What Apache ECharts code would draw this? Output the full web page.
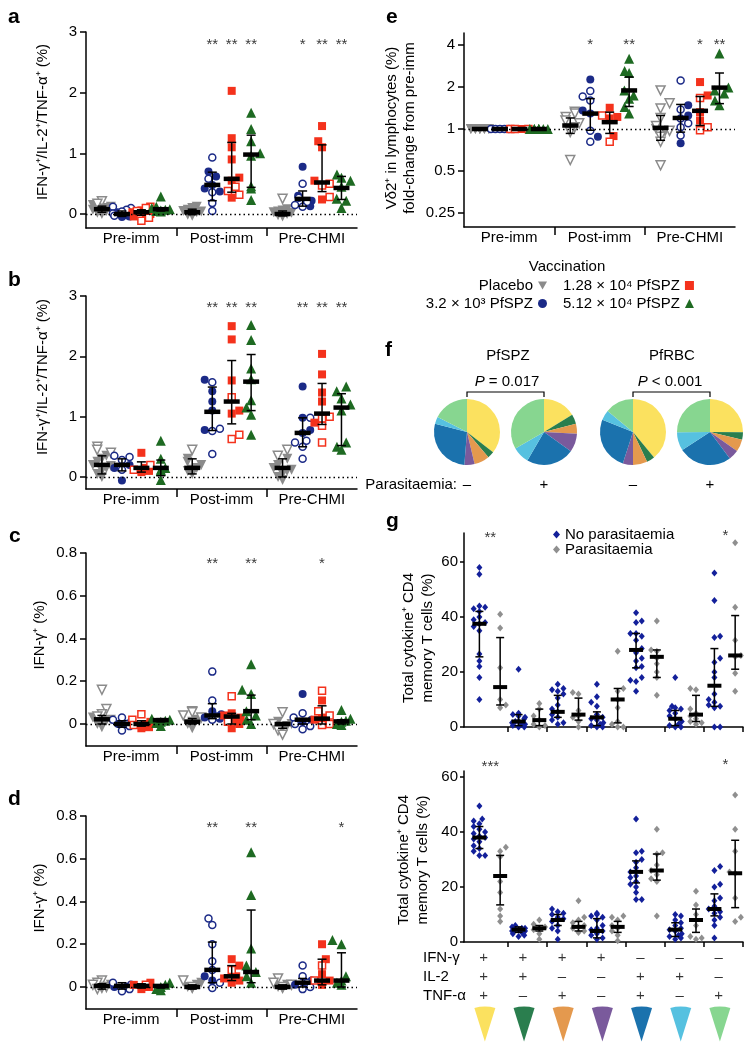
<!DOCTYPE html>
<html><head><meta charset="utf-8">
<script src="https://cdn.jsdelivr.net/npm/echarts@6/dist/echarts.min.js"></script>
<style>html,body{margin:0;padding:0;background:#fff}#c{width:752px;height:1050px}</style>
</head><body><div id="c"></div>
<script>
const FONT = '"Liberation Sans", Arial, Helvetica, sans-serif';
const timepoints = ['Pre-imm', 'Post-imm', 'Pre-CHMI'];
const groups = ['Placebo', '3.2 × 10³ PfSPZ', '1.28 × 10⁴ PfSPZ', '5.12 × 10⁴ PfSPZ'];
const cytokineRows = ['IFN-γ', 'IL-2', 'TNF-α'];
const signIFN = ['+', '+', '+', '+', '–', '–', '–'];
const signIL2 = ['+', '+', '–', '–', '+', '+', '–'];
const signTNF = ['+', '–', '+', '–', '+', '–', '+'];
const subsetColors = ['#FBE15F', '#2A7E4E', '#E4994E', '#7A5A9C', '#1B72AD', '#56C1E0', '#87D690'];

// ---------- panel a ----------
const aPlaceboFilled = [[0.15,0.12,0.1,0.09,0.08,0.07,0.06,0.05,0.04,0.02,0.0],[0.12,0.1,0.07,0.05,0.04,0.03,0.01,-0.01,-0.03],[0.08,0.06,0.04,0.03,0.02,0.0,-0.01,-0.02,-0.04]];
const aPlaceboOpen = [[0.21,0.17],[],[0.25]];
const aBlueFilled = [[0.03,0.0,-0.02,-0.04,-0.05],[0.7,0.62,0.48,0.42,0.37],[0.78,0.3,0.22,0.13]];
const aBlueOpen = [[0.12,0.1,0.07,0.04,0.01,-0.03],[0.93,0.58,0.36,0.18,0.05],[0.5,0.27,0.2,0.15,0.12]];
const aRedFilled = [[0.06,0.03,0.0,-0.02,-0.04],[2.03,1.25,1.1,0.9,0.6,0.55,0.27],[1.45,1.2,1.1,0.55,0.24]];
const aRedOpen = [[0.12,0.1,0.05,-0.06,-0.11],[0.38,0.32,0.45],[0.5,0.47,0.28]];
const aGreenFilled = [[0.29,0.12,0.1,0.08,0.07,0.06,0.05,0.04],[1.67,1.4,1.2,1.0,0.96,0.46,0.42,0.23],[0.65,0.6,0.55,0.45,0.25,0.22,0.1]];
const aGreenOpen = [[],[],[]];
const aMedian = [[0.08,0.0,0.03,0.08],[0.03,0.48,0.58,0.98],[0.0,0.25,0.52,0.43]];
const aLow = [[0.03,-0.04,-0.02,0.05],[-0.01,0.22,0.36,0.44],[-0.03,0.13,0.37,0.24]];
const aHigh = [[0.13,0.05,0.07,0.1],[0.08,0.69,1.18,1.3],[0.05,0.38,1.14,0.62]];
const aStars = [['','','',''],['','**','**','**'],['','*','**','**']];
const aTicks = [0, 1, 2, 3];

// ---------- panel b ----------
const bPlaceboFilled = [[0.35,0.3,0.25,0.2,0.18,0.15,0.1,0.05,0.0],[0.3,0.25,0.2,0.15,0.12,0.1,0.05],[0.3,0.2,0.15,0.12,0.1,0.05,0.0,-0.05]];
const bPlaceboOpen = [[0.5,0.45,0.4],[0.45],[0.45,0.35]];
const bBlueFilled = [[0.2,0.15,-0.06],[1.61,1.42,1.25,1.1,0.78],[1.5,0.98,0.78,0.73]];
const bBlueOpen = [[0.35,0.33,0.28,0.12],[1.57,0.8,0.76,0.38],[0.98,0.6,0.57,0.5,0.3]];
const bRedFilled = [[0.4,0.15,0.1,0.08],[2.5,2.28,1.6,1.1,1.05],[2.04,1.7,1.4,1.25,0.9]];
const bRedOpen = [[0.2,0.12],[1.32,0.7,0.63],[1.0,0.97,0.85,0.57]];
const bGreenFilled = [[0.6,0.3,0.15,0.12,0.1,-0.05],[2.52,2.27,1.8,1.62,1.27,1.15,1.03,0.7],[1.5,1.42,1.3,1.2,1.1,0.57,0.5,0.45]];
const bGreenOpen = [[],[],[]];
const bMedian = [[0.2,0.2,0.15,0.15],[0.15,1.08,1.25,1.58],[0.15,0.73,1.05,1.15]];
const bLow = [[0.05,0.1,0.08,0.02],[0.05,0.77,0.88,1.1],[0.0,0.5,0.87,0.52]];
const bHigh = [[0.35,0.3,0.25,0.28],[0.3,1.49,1.93,2.03],[0.3,0.98,1.55,1.38]];
const bStars = [['','','',''],['','**','**','**'],['','**','**','**']];
const bTicks = [0, 1, 2, 3];

// ---------- panel c ----------
const cPlaceboFilled = [[0.03,0.02,0.015,0.01,0.0,-0.015],[0.02,0.01,0.0,-0.02],[0.01,0.0,-0.01,-0.02]];
const cPlaceboOpen = [[0.16,0.07,0.045,0.035],[0.06,0.055,0.04,0.03],[0.055,0.0,-0.03,-0.05]];
const cBlueFilled = [[0.0],[0.06,0.045,0.03,0.025],[0.14,0.02,0.01]];
const cBlueOpen = [[0.03,0.02,0.01,0.0,-0.01,-0.03],[0.245,0.11,0.035,0.02],[0.05,0.03,0.0,-0.01,-0.025]];
const cRedFilled = [[0.01,0.0,-0.02,-0.015],[0.05,0.04,0.03,0.02,0.0,-0.02],[0.11,0.03,0.02]];
const cRedOpen = [[0.045,0.02,-0.005],[0.13,0.01],[0.155,0.06,0.04,0.0,-0.005]];
const cGreenFilled = [[0.025,0.02,0.015,0.01,0.005,-0.01],[0.28,0.16,0.14,0.06,0.04,0.02,0.0],[0.065,0.025,0.015,0.01,0.0,-0.005]];
const cGreenOpen = [[],[],[]];
const cMedian = [[0.022,0.0,0.0,0.018],[0.01,0.04,0.035,0.06],[0.0,0.02,0.025,0.012]];
const cLow = [[0.0,-0.015,-0.01,0.01],[0.0,0.025,0.0,0.02],[-0.02,0.0,0.0,0.0]];
const cHigh = [[0.04,0.015,0.015,0.025],[0.025,0.095,0.05,0.135],[0.005,0.025,0.085,0.02]];
const cStars = [['','','',''],['','**','','**'],['','','*','']];
const cTicks = [0, 0.2, 0.4, 0.6, 0.8];

// ---------- panel d ----------
const dPlaceboFilled = [[0.01,0.0,-0.01],[0.02,0.01,0.0,-0.01],[0.01,0.0,-0.01]];
const dPlaceboOpen = [[0.03,0.02,0.01,0.0,-0.01],[0.03,0.0],[0.04,0.02,0.01,0.0]];
const dBlueFilled = [[0.0],[0.05,0.03],[0.03,0.01]];
const dBlueOpen = [[0.02,0.01,0.0,-0.01,-0.02],[0.32,0.29,0.2,0.12,0.08,0.02,-0.005],[0.1,0.05,0.02,0.0,-0.01]];
const dRedFilled = [[0.02,0.01,0.0,-0.01],[0.13,0.1,0.05,0.04,0.03,0.02],[0.2,0.13,0.06,0.03,0.01]];
const dRedOpen = [[0.01],[0.08],[0.1,0.03]];
const dGreenFilled = [[0.02,0.01,0.0,-0.01,-0.015],[0.63,0.43,0.18,0.1,0.07,0.05,0.02],[0.22,0.2,0.05,0.03,0.02,0.01]];
const dGreenOpen = [[],[],[]];
const dMedian = [[0.005,0.005,0.005,0.005],[0.0,0.08,0.05,0.07],[0.0,0.02,0.03,0.03]];
const dLow = [[-0.01,-0.01,-0.005,-0.005],[-0.01,0.02,0.03,0.02],[-0.01,0.0,0.01,0.0]];
const dHigh = [[0.015,0.02,0.015,0.01],[0.01,0.21,0.1,0.36],[0.01,0.04,0.13,0.16]];
const dStars = [['','','',''],['','**','','**'],['','','','*']];
const dTicks = [0, 0.2, 0.4, 0.6, 0.8];

// ---------- panel e (fold-change, log2 axis) ----------
const ePlaceboFilled = [[1,1,1,1,1,1,1,1,1,1,1],[],[1.0,0.95]];
const ePlaceboOpen = [[],[1.33,1.29,1.22,1.15,1.1,1.03,1.0,0.95,0.6],[1.89,1.53,1.4,1.2,1.05,0.97,0.88,0.81,0.55]];
const eBlueFilled = [[1,1,1,1,1],[2.26,1.36,1.29,0.88],[1.48,1.25,0.79]];
const eBlueOpen = [[1,1,1,1,1],[1.87,1.71,1.6,0.97,0.81],[2.23,1.38,1.19,1.1,1.03,0.9]];
const eRedFilled = [[1,1,1,1],[1.42,1.22,1.19,0.89],[2.17,1.74,1.32,1.15]];
const eRedOpen = [[1,1,1],[1.25,0.81],[1.67,1.03,0.98]];
const eGreenFilled = [[1,1,1,1,1,1,1,1],[3.19,2.6,2.52,1.89,1.74,1.65,1.44,1.29],[3.47,1.98,1.89,1.8,1.6,1.48]];
const eGreenOpen = [[],[],[]];
const eMedian = [[1,1,1,1],[1.06,1.29,1.12,1.89],[1.02,1.2,1.35,1.98]];
const eLow = [[1,1,1,1],[0.93,0.98,0.93,1.45],[0.83,0.95,1.06,1.52]];
const eHigh = [[1,1,1,1],[1.2,1.65,1.32,2.36],[1.25,1.5,1.71,2.52]];
const eStars = [['','','',''],['','*','','**'],['','','*','**']];
const eTickLabels = ['0.25', '0.5', '1', '2', '4'];

// ---------- panel f (pie fractions, %) ----------
const pieSpzNeg = [35.5, 3.3, 7.5, 5, 27.7, 3.5, 17.5];
const pieSpzPos = [16.3, 4.7, 4.9, 9, 23.5, 8.3, 33.3];
const pieRbcNeg = [39, 4, 7, 5, 26, 5, 14];
const pieRbcPos = [25, 3.6, 6, 5, 26, 9, 25];

// ---------- panel g ----------
const gTopNoPara = [
  [58,55.5,44,43.5,43,42,40,39,38,37.5,36.5,35,26.5,24,22,18,10],
  [21,5,4.5,4,3.5,3,2,2,1.5,1,1,0.5,0,0],
  [15.5,14,13.5,13,12,10.5,8,6.5,5.5,4.5,3.5,2.5,1.5,1],
  [15.5,11,9,7.5,4.5,3.5,3,2.5,1.5,1,0.5,0,0],
  [41.5,38.5,38,34,34,33,31.5,28.5,27,25,24,22,21.5,18,17,16.5,13],
  [18,7.5,7,6.5,6,5,4,3,2,1,0.5,0,0],
  [56,46,33,32.5,25,23.5,20,18,12,10,9,8,7.5,7,0,0]
];
const gTopPara = [
  [41,36,21.5,10,8,7],
  [8.5,6.5,4,2.5,1,0.5,0],
  [12.5,12,6,4,3.5,2,0],
  [27.5,14,13,10,7,2,1,0,0],
  [38.5,28,27.5,25,23,20,18,11.5],
  [14,13.5,6.5,5,4,3,2,1.5,1],
  [67,43.5,31.5,26,25.5,19.5,13]
];
const gTopNoMedian = [37.5,2,5.5,3.5,28,3,15];
const gTopNoLow = [25.5,0.5,3.5,0.5,21.5,0.5,7.5];
const gTopNoHigh = [42,4.5,11.5,5.5,34,6,28.5];
const gTopParaMedian = [14.5,2.5,4.5,10,25.5,4.5,26];
const gTopParaLow = [8,0.5,2.5,1.5,18,2,21];
const gTopParaHigh = [32.5,6.5,10.5,14,28,11.5,40.5];

const gBotNoPara = [
  [49.5,44.7,44,43,42,41,40,39.5,38.5,38,37.5,36.5,35,34,33,31.5,31.5],
  [6,5.5,5,5,4.5,4.5,4,4,3.5,3,2.5,2],
  [12,11,10.5,10,9,8.5,8,7.5,6,5,4,1],
  [10.5,10,9.5,9,8,6,5,4.5,4,3,2.5,1.5,1],
  [44.7,33,32.5,30,29,27,25.5,24,23.5,22,21,20,18,15.5,15.5],
  [10,9.5,8,7,6,5,4.5,4,3,2.5,2,1.5,1],
  [27.5,26,21,20,16,15,13,12,11,10.5,9,8,6,1.5]
];
const gBotPara = [
  [34.5,33,31,22,18,12,9.5,7.5],
  [8,6.5,5.5,5,4.5,3,1],
  [15,9,8,7,6,5.5,5,4,3.5],
  [9.5,9,8,6,5,4,2.5,0.5],
  [41,32.5,32,28,26,24.5,23,22,9.5],
  [18.5,13.5,10,8,6,2,1.5,1],
  [53.5,41,33,25.5,25,16,9,7.5]
];
const gBotNoMedian = [38,4.5,8,4,25.5,4.5,12];
const gBotNoLow = [34,3.5,6,1.5,21.5,2,9.5];
const gBotNoHigh = [42,5.5,10,8.5,29.5,7,17.5];
const gBotParaMedian = [24,5,5.5,5.5,26,8,25];
const gBotParaLow = [13.5,4,4,3.5,22.5,3.5,12.5];
const gBotParaHigh = [31.5,6,7.5,7.5,32,12,37];
const gTopStars = ['**','','','','','','*'];
const gBotStars = ['***','','','','','','*'];
const gTicks = [0, 20, 40, 60];

// ================= build =================
const C_GREY = '#8b8b8b', C_BLUE = '#1b2a87', C_RED = '#f4321c', C_GREEN = '#1e6a22';
const G_BLUE = '#13209a', G_GREY = '#8f8f8f';
const groupColors = [C_GREY, C_BLUE, C_RED, C_GREEN];
const groupSymbols = ['triangle', 'circle', 'rect', 'triangle'];
const groupSizes = [10, 8, 8, 10];
const groupRot = [180, 0, 0, 0];
const DOT_OFF = [-0.324, -0.102, 0.113, 0.328];

const grids = [], xAxes = [], yAxes = [], series = [], graphics = [];

function swarm(vals, pxY, r, maxOff) {
  const order = vals.map((v, i) => i).sort((a, b) => vals[a] - vals[b]);
  const placed = [], offs = new Array(vals.length).fill(0);
  const step = r * 0.95, minD = r * 1.7;
  order.forEach((i, n) => {
    const y = vals[i] * pxY;
    let chosen = null;
    for (let k = 0; k <= 10 && chosen === null; k++) {
      const c = k === 0 ? [0] : (n % 2 ? [k * step, -k * step] : [-k * step, k * step]);
      for (const cc of c) {
        if (Math.abs(cc) > maxOff) continue;
        if (placed.every(p => Math.hypot(p.x - cc, p.y - y) >= minD)) { chosen = cc; break; }
      }
    }
    if (chosen === null) chosen = ((n % 5) - 2) * maxOff / 2;
    placed.push({ x: chosen, y }); offs[i] = chosen;
  });
  return offs;
}

function renderSummary(halfW, capW, th) {
  return function (params, api) {
    const x = api.value(0), m = api.value(1), l = api.value(2), h = api.value(3);
    const pm = api.coord([x, m]), pl = api.coord([x, l]), ph = api.coord([x, h]);
    const st = { stroke: '#000', lineWidth: 1.5 };
    const ch = [];
    if (Math.abs(pl[1] - ph[1]) > 1) {
      ch.push({ type: 'line', shape: { x1: pm[0], y1: pl[1], x2: pm[0], y2: ph[1] }, style: st });
      ch.push({ type: 'line', shape: { x1: pm[0] - capW / 2, y1: pl[1], x2: pm[0] + capW / 2, y2: pl[1] }, style: st });
      ch.push({ type: 'line', shape: { x1: pm[0] - capW / 2, y1: ph[1], x2: pm[0] + capW / 2, y2: ph[1] }, style: st });
    }
    ch.push({ type: 'rect', shape: { x: pm[0] - halfW, y: pm[1] - th / 2, width: 2 * halfW, height: th }, style: { fill: '#000' } });
    return { type: 'group', children: ch };
  };
}

const axisLineStyle = { color: '#000', width: 1.5 };
const labelBase = { fontSize: 15, color: '#000', fontFamily: FONT };

function dotPanel(gi, rect, yMin, yMax, ticks, fmt, tf, pxY, filled, open, med, lo, hi, stars, starVal, base) {
  grids.push({ left: rect[0], top: rect[1], width: rect[2], height: rect[3] });
  xAxes.push({ gridIndex: gi, type: 'value', min: 0, max: 3,
    axisLine: { onZero: false, lineStyle: axisLineStyle },
    axisTick: { show: true, customValues: [1, 2], length: 8, lineStyle: axisLineStyle },
    axisLabel: Object.assign({ show: true, customValues: [0.5, 1.5, 2.5], formatter: v => timepoints[Math.floor(v)], margin: 3 }, labelBase),
    splitLine: { show: false } });
  yAxes.push({ gridIndex: gi, type: 'value', min: yMin, max: yMax,
    axisLine: { show: true, onZero: false, lineStyle: axisLineStyle },
    axisTick: { show: true, customValues: ticks, length: 6, lineStyle: axisLineStyle },
    axisLabel: Object.assign({ show: true, customValues: ticks, formatter: fmt, margin: 9 }, labelBase),
    splitLine: { show: false } });
  const pxX = rect[2] / 3;
  for (let g = 0; g < 4; g++) {
    const fData = [], oData = [];
    for (let t = 0; t < 3; t++) {
      const f = filled[g][t].map(tf), o = open[g][t].map(tf);
      const all = f.concat(o);
      const offs = swarm(all, pxY, groupSizes[g] / 2, 9);
      all.forEach((v, i) => {
        const pt = [t + 0.5 + DOT_OFF[g] + offs[i] / pxX, v];
        (i < f.length ? fData : oData).push(pt);
      });
    }
    const common = { type: 'scatter', xAxisIndex: gi, yAxisIndex: gi, symbol: groupSymbols[g], symbolSize: groupSizes[g],
      symbolRotate: groupRot[g], silent: true, animation: false, z: 3 };
    const fs = Object.assign({ name: groups[g], data: fData, itemStyle: { color: groupColors[g], opacity: 1 } }, common);
    if (g === 0) {
      fs.markLine = { silent: true, symbol: 'none', label: { show: false }, animation: false,
        lineStyle: { type: [1.5, 3], color: '#000', width: 1.3 }, data: [{ yAxis: tf(base) }] };
    }
    series.push(fs);
    series.push(Object.assign({ name: groups[g] + ' (open)', data: oData,
      itemStyle: { color: '#fff', borderColor: groupColors[g], borderWidth: 1.5, opacity: 1 } }, common, { symbolSize: groupSizes[g] - 1 }));
  }
  const sData = [], stData = [];
  for (let t = 0; t < 3; t++) for (let g = 0; g < 4; g++) {
    sData.push([t + 0.5 + DOT_OFF[g], tf(med[t][g]), tf(lo[t][g]), tf(hi[t][g])]);
    if (stars[t][g]) stData.push({ value: [t + 0.5 + DOT_OFF[g], tf(starVal)], name: stars[t][g] });
  }
  series.push({ type: 'custom', xAxisIndex: gi, yAxisIndex: gi, renderItem: renderSummary(8, 9, 4.5), data: sData,
    encode: { x: 0, y: [1, 2, 3] }, z: 5, silent: true, animation: false });
  series.push({ type: 'scatter', xAxisIndex: gi, yAxisIndex: gi, data: stData, symbolSize: 0, silent: true, animation: false, clip: false, z: 6,
    label: Object.assign({ show: true, position: 'inside', formatter: '{b}' }, labelBase) });
}

const idt = v => v;
const fmtNum = v => String(+(+v).toFixed(2));
dotPanel(0, [86, 32, 271, 196], -0.23, 3, aTicks, fmtNum, idt, 60.67,
  [aPlaceboFilled, aBlueFilled, aRedFilled, aGreenFilled], [aPlaceboOpen, aBlueOpen, aRedOpen, aGreenOpen], aMedian, aLow, aHigh, aStars, 2.79, 0);
dotPanel(1, [86, 296, 271, 193], -0.2, 3, bTicks, fmtNum, idt, 60.33,
  [bPlaceboFilled, bBlueFilled, bRedFilled, bGreenFilled], [bPlaceboOpen, bBlueOpen, bRedOpen, bGreenOpen], bMedian, bLow, bHigh, bStars, 2.8, 0);
dotPanel(2, [86, 553, 271, 193], -0.103, 0.8, cTicks, fmtNum, idt, 213.75,
  [cPlaceboFilled, cBlueFilled, cRedFilled, cGreenFilled], [cPlaceboOpen, cBlueOpen, cRedOpen, cGreenOpen], cMedian, cLow, cHigh, cStars, 0.75, 0);
dotPanel(3, [86, 816, 271, 193], -0.103, 0.8, dTicks, fmtNum, idt, 213.75,
  [dPlaceboFilled, dBlueFilled, dRedFilled, dGreenFilled], [dPlaceboOpen, dBlueOpen, dRedOpen, dGreenOpen], dMedian, dLow, dHigh, dStars, 0.744, 0);
dotPanel(4, [464, 33, 271, 194], -2.333, 2.286, [-2, -1, 0, 1, 2], v => eTickLabels[Math.round(v) + 2], Math.log2, 42,
  [ePlaceboFilled, eBlueFilled, eRedFilled, eGreenFilled], [ePlaceboOpen, eBlueOpen, eRedOpen, eGreenOpen], eMedian, eLow, eHigh, eStars, 4, 1);

// ---- g panels ----
const G_XMIN = -0.123, G_XMAX = 7;
function gPanel(gi, rect, yMax, noVals, paraVals, noMed, noLo, noHi, paMed, paLo, paHi, stars, starVals) {
  grids.push({ left: rect[0], top: rect[1], width: rect[2], height: rect[3] });
  xAxes.push({ gridIndex: gi, type: 'value', min: G_XMIN, max: G_XMAX,
    axisLine: { onZero: false, lineStyle: axisLineStyle },
    axisTick: { show: true, customValues: [1, 2, 3, 4, 5, 6, 7], length: 5, lineStyle: axisLineStyle },
    axisLabel: { show: false }, splitLine: { show: false } });
  yAxes.push({ gridIndex: gi, type: 'value', min: 0, max: yMax,
    axisLine: { show: true, onZero: false, lineStyle: axisLineStyle },
    axisTick: { show: true, customValues: gTicks, length: 4, lineStyle: axisLineStyle },
    axisLabel: Object.assign({ show: true, customValues: gTicks, margin: 6 }, labelBase),
    splitLine: { show: false } });
  const pxX = rect[2] / (G_XMAX - G_XMIN), pxY = rect[3] / yMax;
  const bd = [], gd = [];
  for (let k = 0; k < 7; k++) {
    const ob = swarm(noVals[k], pxY, 3, 6.5);
    noVals[k].forEach((v, i) => bd.push([k + 0.27 + ob[i] / pxX, v]));
    const og = swarm(paraVals[k], pxY, 3, 6.5);
    paraVals[k].forEach((v, i) => gd.push([k + 0.8 + og[i] / pxX, v]));
  }
  const common = { type: 'scatter', xAxisIndex: gi, yAxisIndex: gi, symbol: 'diamond', symbolSize: [6, 7], silent: true, animation: false, z: 3 };
  series.push(Object.assign({ name: 'No parasitaemia', data: bd, itemStyle: { color: G_BLUE, opacity: 1 } }, common));
  series.push(Object.assign({ name: 'Parasitaemia', data: gd, itemStyle: { color: G_GREY, opacity: 1 } }, common));
  const sd = [];
  for (let k = 0; k < 7; k++) {
    sd.push([k + 0.27, noMed[k], noLo[k], noHi[k]]);
    sd.push([k + 0.8, paMed[k], paLo[k], paHi[k]]);
  }
  series.push({ type: 'custom', xAxisIndex: gi, yAxisIndex: gi, renderItem: renderSummary(7, 8, 4), data: sd,
    encode: { x: 0, y: [1, 2, 3] }, z: 5, silent: true, animation: false });
  const st = [];
  stars.forEach((s, k) => { if (s) st.push({ value: [k + 0.55, starVals[k]], name: s }); });
  series.push({ type: 'scatter', xAxisIndex: gi, yAxisIndex: gi, data: st, symbolSize: 0, silent: true, animation: false, clip: false, z: 6,
    label: Object.assign({ show: true, position: 'inside', formatter: '{b}' }, labelBase) });
}
gPanel(5, [464, 533, 279, 194], 70.5, gTopNoPara, gTopPara, gTopNoMedian, gTopNoLow, gTopNoHigh, gTopParaMedian, gTopParaLow, gTopParaHigh,
  gTopStars, [68.7, 0, 0, 0, 0, 0, 69.5]);
gPanel(6, [464, 771, 279, 171], 62.2, gBotNoPara, gBotPara, gBotNoMedian, gBotNoLow, gBotNoHigh, gBotParaMedian, gBotParaLow, gBotParaHigh,
  gBotStars, [63.6, 0, 0, 0, 0, 0, 64.4]);

// ---- g table (signs + cones) ----
grids.push({ left: 464, top: 939, width: 279, height: 95 });
xAxes.push({ gridIndex: 7, type: 'value', min: G_XMIN, max: G_XMAX, show: false });
yAxes.push({ gridIndex: 7, type: 'value', min: 0, max: 5, inverse: true, show: false });
const signData = [];
[signIFN, signIL2, signTNF].forEach((row, r) => row.forEach((s, k) => signData.push({ value: [k + 0.38, r + 1], name: s })));
series.push({ type: 'scatter', xAxisIndex: 7, yAxisIndex: 7, data: signData, symbolSize: 0, silent: true, animation: false, clip: false,
  label: Object.assign({ show: true, position: 'inside', formatter: '{b}' }, labelBase) });
series.push({ type: 'scatter', xAxisIndex: 7, yAxisIndex: 7, silent: true, animation: false, clip: false,
  symbol: 'path://M0,2 Q10.5,-1 21,2 L10.5,36 Z', symbolSize: [21, 35],
  data: subsetColors.map((c, k) => ({ value: [k + 0.41, 4.47], itemStyle: { color: c, opacity: 1 } })) });

// ---- f pies ----
const pieCenters = [[467, 432], [544, 432], [633, 432], [710, 432]];
[pieSpzNeg, pieSpzPos, pieRbcNeg, pieRbcPos].forEach((arr, i) => {
  series.push({ type: 'pie', center: pieCenters[i], radius: 33, startAngle: 90, clockwise: true, silent: true, animation: false,
    label: { show: false }, labelLine: { show: false }, itemStyle: { borderWidth: 0, opacity: 1 },
    data: arr.map((v, k) => ({ value: v, name: 'subset' + k, itemStyle: { color: subsetColors[k] } })) });
});

// ---- texts ----
function txt(x, y, text, opt) {
  const style = Object.assign({ text, fill: '#000', font: '15px ' + FONT, align: 'center', verticalAlign: 'middle',
    textAlign: 'center', textVerticalAlign: 'middle' }, opt || {});
  return { type: 'text', x, y, silent: true, style };
}
function rtxt(x, y, text, opt) { const t = txt(x, y, text, opt); t.rotation = Math.PI / 2; return t; }
const bold = { font: 'bold 21px ' + FONT, align: 'left', textAlign: 'left' };
graphics.push(txt(8, 17, 'a', bold), txt(8, 280, 'b', bold), txt(9, 536, 'c', bold), txt(8, 799, 'd', bold),
  txt(386, 17, 'e', bold), txt(385, 350, 'f', bold), txt(386, 521, 'g', bold));
graphics.push(rtxt(43, 122, 'IFN-γ⁺/IL-2⁺/TNF-α⁺ (%)'), rtxt(43, 377, 'IFN-γ⁺/IL-2⁺/TNF-α⁺ (%)'),
  rtxt(40, 635, 'IFN-γ⁺ (%)'), rtxt(40, 898, 'IFN-γ⁺ (%)'),
  rtxt(401, 128, 'Vδ2⁺ in lymphocytes (%)\nfold-change from pre-imm', { lineHeight: 18 }),
  rtxt(418, 638, 'Total cytokine⁺ CD4\nmemory T cells (%)', { lineHeight: 19 }),
  rtxt(413, 860, 'Total cytokine⁺ CD4\nmemory T cells (%)', { lineHeight: 19 }));
graphics.push(txt(567, 267, 'Vaccination'));
graphics.push(txt(508, 356, 'PfSPZ'), txt(672, 356, 'PfRBC'));
const richP = { i: { fontStyle: 'italic', fontSize: 15, fontFamily: FONT } };
graphics.push(txt(507, 382, '{i|P} = 0.017', { rich: richP, font: undefined, fontSize: 15, fontFamily: FONT }),
  txt(670, 382, '{i|P} < 0.001', { rich: richP, font: undefined, fontSize: 15, fontFamily: FONT }));
graphics.push({ type: 'polyline', silent: true, shape: { points: [[467, 397], [467, 392], [544, 392], [544, 397]] }, style: { stroke: '#000', lineWidth: 1.2, fill: null } });
graphics.push({ type: 'polyline', silent: true, shape: { points: [[633, 397], [633, 392], [710, 392], [710, 397]] }, style: { stroke: '#000', lineWidth: 1.2, fill: null } });
graphics.push(txt(457, 485, 'Parasitaemia:', { align: 'right', textAlign: 'right' }));
['–', '+', '–', '+'].forEach((s, i) => graphics.push(txt(pieCenters[i][0], 485, s)));
cytokineRows.forEach((r, i) => graphics.push(txt(423, 958 + i * 19, r, { align: 'left', textAlign: 'left' })));

const legTxt = { fontSize: 15, fontFamily: FONT, color: '#000' };
const legends = [
  { data: [{ name: groups[0], icon: 'path://M0,0L10,0L5,9Z' }], right: 205, top: 278, align: 'right' },
  { data: [{ name: groups[1], icon: 'circle' }], right: 205, top: 296, align: 'right' },
  { data: [{ name: groups[2], icon: 'rect' }], left: 563, top: 278, align: 'right' },
  { data: [{ name: groups[3], icon: 'triangle' }], left: 563, top: 296, align: 'right' },
  { data: [{ name: 'No parasitaemia', icon: 'diamond' }, { name: 'Parasitaemia', icon: 'diamond' }], left: 553, top: 527,
    orient: 'vertical', align: 'left', itemGap: 0, itemWidth: 7, itemHeight: 8 }
].map(l => Object.assign({ padding: 0, selectedMode: false, itemWidth: 9, itemHeight: 9, textStyle: legTxt, orient: 'horizontal' }, l));

const chart = echarts.init(document.getElementById('c'), null, { width: 752, height: 1050 });
chart.setOption({
  animation: false,
  backgroundColor: '#fff',
  textStyle: { fontFamily: FONT },
  grid: grids, xAxis: xAxes, yAxis: yAxes, series, legend: legends, graphic: { elements: graphics }
});
</script></body></html>
